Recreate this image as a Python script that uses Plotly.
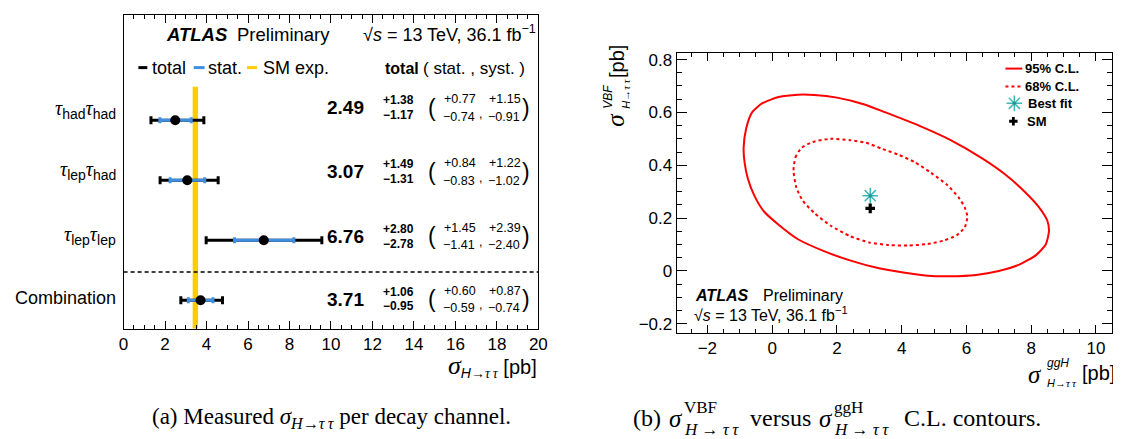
import plotly.graph_objects as go

W, H = 1121, 439
SANS = "Liberation Sans, Arial, Helvetica, sans-serif"
SERIF = "Liberation Serif, Times New Roman, serif"

TAU = "<span style='font-family:Liberation Serif'><i>τ</i></span>"
TT = "<span style='font-family:Liberation Serif'><i>τ\u2009τ</i></span>"

# ---------------- data: panel (a) ----------------
channel_labels = [
    TAU + "<sub>had</sub>" + TAU + "<sub>had</sub>",
    TAU + "<sub>lep</sub>" + TAU + "<sub>had</sub>",
    TAU + "<sub>lep</sub>" + TAU + "<sub>lep</sub>",
    "Combination",
]
xsec_values = [2.49, 3.07, 6.76, 3.71]
total_up = [1.38, 1.49, 2.80, 1.06]
total_down = [1.17, 1.31, 2.78, 0.95]
stat_up = [0.77, 0.84, 1.45, 0.60]
stat_down = [0.74, 0.83, 1.41, 0.59]
syst_up = [1.15, 1.22, 2.39, 0.87]
syst_down = [0.91, 1.02, 2.40, 0.74]
row_index = [4, 3, 2, 1]
sm_expected = 3.46
sm_band_half = 0.13
xticks_a = [0, 2, 4, 6, 8, 10, 12, 14, 16, 18, 20]

# ---------------- data: panel (b) ----------------
cl95_ggh = [-0.88, -0.80, -0.62, -0.30, 0.20, 0.80, 1.30, 2.00, 2.80, 3.50, 4.50, 5.50,
            6.50, 7.20, 7.80, 8.25, 8.50, 8.55, 8.45, 8.15, 7.65, 7.00, 6.30, 5.50,
            4.80, 4.00, 3.30, 2.40, 1.60, 0.80, 0.20, -0.25, -0.55, -0.75, -0.85, -0.88]
cl95_vbf = [0.465, 0.540, 0.600, 0.635, 0.658, 0.667, 0.666, 0.656, 0.632, 0.600, 0.552, 0.496,
            0.425, 0.365, 0.300, 0.240, 0.190, 0.150, 0.100, 0.060, 0.025, 0.000, -0.015, -0.020,
            -0.018, -0.005, 0.010, 0.040, 0.075, 0.120, 0.175, 0.225, 0.285, 0.350, 0.410, 0.465]
cl68_ggh = [0.66, 0.72, 0.90, 1.25, 1.80, 2.40, 2.90, 3.40, 3.90, 4.40, 4.90, 5.40, 5.75,
            5.95, 6.03, 5.95, 5.70, 5.30, 4.80, 4.20, 3.60, 3.00, 2.40, 1.80, 1.30, 0.95,
            0.75, 0.66]
cl68_vbf = [0.380, 0.430, 0.465, 0.488, 0.500, 0.495, 0.485, 0.462, 0.440, 0.412, 0.372,
            0.326, 0.280, 0.240, 0.205, 0.165, 0.135, 0.115, 0.102, 0.096, 0.098, 0.108,
            0.132, 0.172, 0.220, 0.265, 0.315, 0.380]
bestfit_ggh = [3.03]
bestfit_vbf = [0.285]
sm_ggh = [3.03]
sm_vbf = [0.237]

RED = "#ff0000"
TEAL = "#3fb7b7"
BLUE = "#3f8fe0"
YELLOW = "#ffcc00"


def px(x):
    return x / W


def py(y):
    return 1 - y / H


fig = go.Figure()

# ---------- panel (a) ----------
fig.add_trace(go.Scatter(
    x=xsec_values, y=row_index, mode="markers", xaxis="x", yaxis="y",
    marker=dict(size=1, color="black", opacity=0),
    error_x=dict(type="data", symmetric=False, array=total_up, arrayminus=total_down,
                 color="black", thickness=3, width=4),
    showlegend=False, hoverinfo="skip"))
fig.add_trace(go.Scatter(
    x=xsec_values, y=row_index, mode="markers", xaxis="x", yaxis="y",
    marker=dict(size=10, color="black", symbol="circle"),
    error_x=dict(type="data", symmetric=False, array=stat_up, arrayminus=stat_down,
                 color=BLUE, thickness=3, width=3),
    showlegend=False, hoverinfo="skip"))

# ---------- panel (b) ----------
fig.add_trace(go.Scatter(x=cl95_ggh, y=cl95_vbf, mode="lines", xaxis="x2", yaxis="y2",
                         line=dict(color=RED, width=2, shape="spline", smoothing=0.6),
                         showlegend=False))
fig.add_trace(go.Scatter(x=cl68_ggh, y=cl68_vbf, mode="lines", xaxis="x2", yaxis="y2",
                         line=dict(color=RED, width=2, dash="3px,3px", shape="spline", smoothing=0.6),
                         showlegend=False))
fig.add_trace(go.Scatter(x=bestfit_ggh, y=bestfit_vbf, mode="markers", xaxis="x2", yaxis="y2",
                         marker=dict(symbol="asterisk-open", size=13, color=TEAL,
                                     line=dict(color=TEAL, width=1.5)), showlegend=False))
fig.add_trace(go.Scatter(x=bestfit_ggh, y=bestfit_vbf, mode="markers", xaxis="x2", yaxis="y2",
                         marker=dict(symbol="circle", size=3, color="#1f8f8f"), showlegend=False))
fig.add_trace(go.Scatter(x=sm_ggh, y=sm_vbf, mode="markers", xaxis="x2", yaxis="y2",
                         marker=dict(symbol="cross", size=8, color="black"), showlegend=False))

# legend keys of panel (b) on a hidden full-page pixel axis
key_x = [1014, 1014, 1013]
key_y = [94, 94, 112]
fig.add_trace(go.Scatter(x=key_x[:1], y=key_y[:1], mode="markers", xaxis="x3", yaxis="y3",
                         marker=dict(symbol="asterisk-open", size=13, color=TEAL,
                                     line=dict(color=TEAL, width=1.5)), showlegend=False))
fig.add_trace(go.Scatter(x=key_x[1:2], y=key_y[1:2], mode="markers", xaxis="x3", yaxis="y3",
                         marker=dict(symbol="circle", size=3, color="#1f8f8f"), showlegend=False))
fig.add_trace(go.Scatter(x=key_x[2:], y=key_y[2:], mode="markers", xaxis="x3", yaxis="y3",
                         marker=dict(symbol="cross", size=7, color="black"), showlegend=False))

axis_common = dict(showline=True, linecolor="black", linewidth=1, mirror="allticks",
                   showgrid=False, zeroline=False, ticks="inside", tickcolor="black",
                   tickfont=dict(family=SANS, size=17, color="black"))

fig.update_layout(
    width=W, height=H, margin=dict(l=0, r=0, t=0, b=0),
    paper_bgcolor="white", plot_bgcolor="rgba(0,0,0,0)",
    xaxis=dict(domain=[px(112), px(532)], range=[0, 20], anchor="y",
               tickvals=xticks_a, ticklen=8,
               minor=dict(dtick=0.5, ticklen=4, ticks="inside", tickcolor="black"),
               **axis_common),
    yaxis=dict(domain=[py(321), py(5)], range=[0.525, 5.754], anchor="x",
               showline=True, linecolor="black", linewidth=1, mirror=True,
               showgrid=False, zeroline=False, showticklabels=False, ticks=""),
    xaxis2=dict(domain=[px(672), px(1113)], range=[-2.95, 10.5], anchor="y2",
                dtick=2, tick0=0, ticklen=8,
                minor=dict(dtick=0.5, ticklen=4, ticks="inside", tickcolor="black"),
                **axis_common),
    yaxis2=dict(domain=[py(325), py(43)], range=[-0.234, 0.826], anchor="x2",
                dtick=0.2, tick0=0, ticklen=10,
                minor=dict(dtick=0.05, ticklen=5, ticks="inside", tickcolor="black"),
                **axis_common),
    xaxis3=dict(domain=[0, 1], range=[0, W], anchor="y3", visible=False),
    yaxis3=dict(domain=[0, 1], range=[H, 0], anchor="x3", visible=False),
)

shapes = []
# SM expectation band
shapes.append(dict(type="rect", xref="x", yref="y", x0=sm_expected - sm_band_half,
                   x1=sm_expected + sm_band_half, y0=0.525, y1=4.56,
                   fillcolor=YELLOW, line=dict(width=0), layer="below"))
# separator between channels and combination
shapes.append(dict(type="line", xref="x domain", yref="y", x0=0, x1=1, y0=1.47, y1=1.47,
                   line=dict(color="black", width=1.5, dash="4px,3px")))
# legend keys panel (a)
for (x0, x1, col) in [(127, 136, "black"), (183, 194, BLUE), (237, 247, YELLOW)]:
    shapes.append(dict(type="line", xref="paper", yref="paper", x0=px(x0), x1=px(x1),
                       y0=py(58), y1=py(58), line=dict(color=col, width=3)))
# legend keys panel (b)
shapes.append(dict(type="line", xref="paper", yref="paper", x0=px(1005), x1=px(1022),
                   y0=py(59), y1=py(59), line=dict(color=RED, width=2)))
shapes.append(dict(type="line", xref="paper", yref="paper", x0=px(1005), x1=px(1022),
                   y0=py(77), y1=py(77), line=dict(color=RED, width=2, dash="3px,3px")))
fig.update_layout(shapes=shapes)

anns = []


def ann(text, x, y, size, xanchor="left", yanchor="middle", family=SANS, angle=0, color="black"):
    anns.append(dict(text=text, x=px(x), y=py(y), xref="paper", yref="paper",
                     xanchor=xanchor, yanchor=yanchor, showarrow=False, textangle=angle,
                     font=dict(family=family, size=size, color=color)))


def fmt(v):
    return f"{v:.2f}"


# ---- panel (a) texts ----
ann("<b><i>ATLAS</i></b>", 153, 25, 18.5)
ann("Preliminary", 225, 25, 18.5)
ann("√<i>s</i> = 13 TeV, 36.1 fb<sup>−1</sup>", 532, 24, 18, xanchor="right")
ann("total", 139, 58, 18)
ann("stat.", 195, 58, 18)
ann("SM exp.", 251, 58, 18)
ann("<b>total</b>", 375, 59, 16)
ann("( stat. , syst. )", 413, 59, 17)

text_rows = [98.5, 163, 228, 291]
label_rows = [100, 162, 227, 290]
for i in range(len(xsec_values)):
    r = text_rows[i]
    ann(channel_labels[i], 106, label_rows[i], 18 if i == 3 else 20, xanchor="right")
    ann(f"<b>{fmt(xsec_values[i])}</b>", 357, r, 19, xanchor="right")
    ann(f"<b>+{fmt(total_up[i])}</b>", 373, r - 7.5, 12)
    ann(f"<b>−{fmt(total_down[i])}</b>", 373, r + 7.5, 12)
    ann("(", 424, r, 23, xanchor="center")
    ann(f"+{fmt(stat_up[i])}", 434, r - 8.5, 12.5)
    ann(f"−{fmt(stat_down[i])}", 433, r + 9, 12.5)
    ann(",", 473, r + 6, 12.5, xanchor="center")
    ann(f"+{fmt(syst_up[i])}", 480, r - 8.5, 12.5)
    ann(f"−{fmt(syst_down[i])}", 479, r + 9, 12.5)
    ann(")", 519, r, 23, xanchor="center")

ann("<span style='font-family:Liberation Serif;font-size:26px'><i>σ</i></span><sub><i>H</i>→" + TT + "</sub> [pb]",
    533, 358, 20, xanchor="right")

# ---- panel (b) texts ----
ann("<b><i>ATLAS</i></b>", 689, 287, 16)
ann("Preliminary", 757, 287, 16)
ann("√<i>s</i> = 13 TeV, 36.1 fb<sup>−1</sup>", 688, 306, 16)
ann("<b>95% C.L.</b>", 1023, 59, 13)
ann("<b>68% C.L.</b>", 1023, 77, 13)
ann("<b>Best fit</b>", 1026, 94, 13)
ann("<b>SM</b>", 1025, 112, 13)

# y-axis title (stacked super/subscripts), rotated
ann("<i>σ</i>", 610, 110, 25, xanchor="center", family=SERIF, angle=-90)
ann("<i>VBF</i>", 603, 87, 12, xanchor="center", angle=-90)
ann("<i>H</i>→" + TT, 621, 84, 11, xanchor="center", angle=-90)
ann("[pb]", 611, 52, 20, xanchor="center", angle=-90)

# x-axis title
ann("<i>σ</i>", 1035, 367, 25, xanchor="center", family=SERIF)
ann("<i>ggH</i>", 1045, 355, 12)
ann("<i>H</i>→" + TT, 1045, 376, 11)
ann("[pb]", 1118, 366, 20, xanchor="right")

# ---- captions ----
ann("(a) Measured <i>σ</i><sub><i>H</i>→<i>τ\u2009τ</i></sub> per decay channel.", 323, 411, 23,
    xanchor="center", family=SERIF)
ann("(b)", 626, 411, 24, family=SERIF)
ann("<i>σ</i>", 662, 411, 25, family=SERIF)
ann("VBF", 677, 400, 17, family=SERIF)
ann("<i>H</i> → <i>τ\u2009τ</i>", 677, 422, 17, family=SERIF)
ann("versus", 744, 411, 24, family=SERIF)
ann("<i>σ</i>", 814, 411, 25, family=SERIF)
ann("ggH", 829, 400, 17, family=SERIF)
ann("<i>H</i> → <i>τ\u2009τ</i>", 829, 422, 17, family=SERIF)
ann("C.L. contours.", 900, 411, 24, family=SERIF)

fig.update_layout(annotations=anns)
fig.write_html("out.html")
